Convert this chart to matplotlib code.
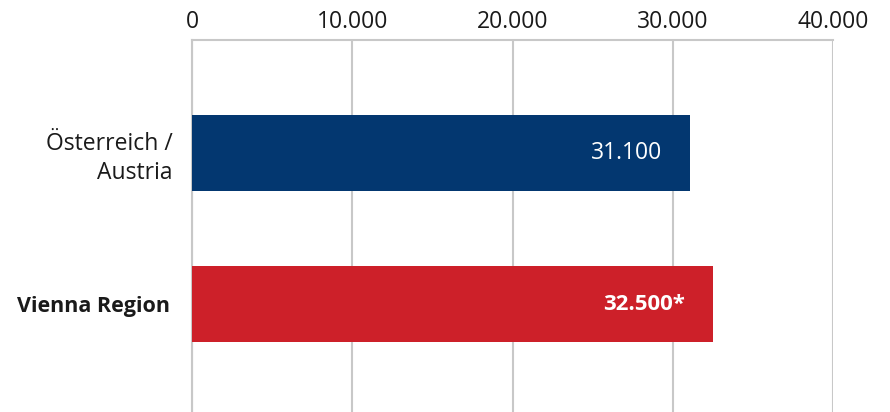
import matplotlib
matplotlib.use("Agg")
import matplotlib.pyplot as plt

categories = ["Österreich /\nAustria", "Vienna Region"]
values = [31100, 32500]
value_labels = ["31.100", "32.500*"]
colors = ["#033770", "#CD2029"]
bold = [False, True]
xticks = [0, 10000, 20000, 30000, 40000]
xtick_labels = ["0", "10.000", "20.000", "30.000", "40.000"]

plt.rcParams['font.family'] = ['Open Sans', 'DejaVu Sans']

W, H = 890, 412
fig = plt.figure(figsize=(W/100, H/100), dpi=100)
ax = fig.add_axes([192/W, 0, (833-192)/W, (412-40)/H])

pos = list(range(len(categories)))
ax.barh(pos, values, height=0.5, color=colors, zorder=3)
ax.set_xlim(0, 40000)
ax.set_ylim(1.715, -0.75)

txt = "#1a1a1a"
ax.set_xticks(xticks)
ax.set_xticklabels(xtick_labels, fontsize=16.5, color=txt)
ax.xaxis.tick_top()
ax.tick_params(axis='x', length=0, pad=4)
ax.set_yticks(pos)
ax.set_yticklabels(categories, fontsize=16.5, color=txt, linespacing=1.25)
ax.tick_params(axis='y', length=0, pad=14)
for lab, b in zip(ax.get_yticklabels(), bold):
    lab.set_horizontalalignment('right')
    lab.set_multialignment('right')
    if b:
        lab.set_fontweight('bold')
        lab.set_fontsize(15.5)
        lab.set_x(-0.004)

ax.grid(axis='x', color="#C8C8C8", linewidth=1.5, zorder=0)
for s in ['right', 'bottom']:
    ax.spines[s].set_visible(False)
for s in ['left', 'top']:
    ax.spines[s].set_color("#C8C8C8")
    ax.spines[s].set_linewidth(1.5)
    ax.spines[s].set_zorder(1)

for p, v, t, b in zip(pos, values, value_labels, bold):
    ax.annotate(t, (v, p), xytext=(-20, 0), textcoords='offset points',
                ha='right', va='center', color='white',
                fontsize=16 if b else 16.5,
                fontweight='bold' if b else 'normal', zorder=5)

fig.savefig("out.png", dpi=100)
